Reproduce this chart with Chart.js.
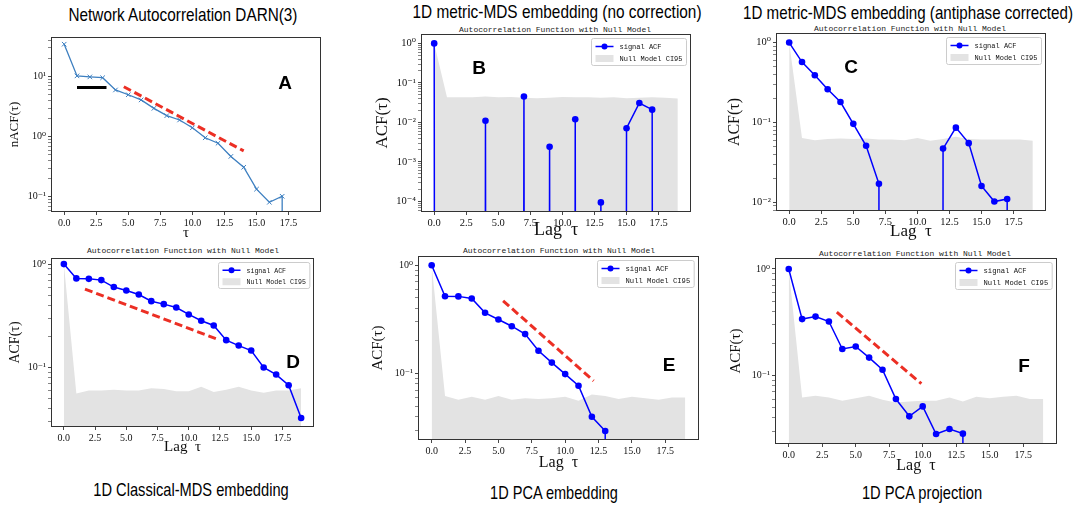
<!DOCTYPE html>
<html>
<head>
<meta charset="utf-8">
<script src="https://cdn.jsdelivr.net/npm/chart.js@4.4.1/dist/chart.umd.min.js"></script>
<style>
  body { margin: 0; background: #fff; width: 1083px; height: 508px; position: relative; overflow: hidden; }
  canvas { position: absolute; }
  .ttl { position: absolute; font-family: "Liberation Sans", Arial, sans-serif; font-size: 19px; color: #000; white-space: nowrap; transform: translate(-50%, -50%); }
  .sub { position: absolute; font-family: "Liberation Mono", "DejaVu Sans Mono", monospace; font-size: 8px; color: #222; white-space: nowrap; transform: translate(-50%, -50%); }
  .tag { position: absolute; font-family: "Liberation Sans", Arial, sans-serif; font-weight: bold; font-size: 19px; color: #000; transform: translate(-50%, -50%); }
</style>
</head>
<body>
<div class="ttl" data-w="229" style="left:183px;top:15px">Network Autocorrelation DARN(3)</div>
<div class="ttl" data-w="289" style="left:557px;top:12px">1D metric-MDS embedding (no correction)</div>
<div class="ttl" data-w="330" style="left:908px;top:13px">1D metric-MDS embedding (antiphase corrected)</div>
<div class="ttl" data-w="195" style="left:191px;top:490px">1D Classical-MDS embedding</div>
<div class="ttl" data-w="128" style="left:554px;top:493px">1D PCA embedding</div>
<div class="ttl" data-w="120" style="left:922px;top:493px">1D PCA projection</div>

<div class="sub" style="left:555px;top:29px">Autocorrelation Function with Null Model</div>
<div class="sub" style="left:910px;top:28px">Autocorrelation Function with Null Model</div>
<div class="sub" style="left:183px;top:250px">Autocorrelation Function with Null Model</div>
<div class="sub" style="left:559px;top:250px">Autocorrelation Function with Null Model</div>
<div class="sub" style="left:915px;top:253px">Autocorrelation Function with Null Model</div>

<script>
/*- DATA
-----------------------------------------------------------------------*/
const lags = [0, 1, 2, 3, 4, 5, 6, 7, 8, 9, 10, 11, 12, 13, 14, 15, 16, 17, 18, 19];
const lagTicks = [0, 2.5, 5, 7.5, 10, 12.5, 15, 17.5];

// negative values fall below the log axis (clipped, like matplotlib does)
// A: network autocorrelation DARN(3)
const nacfDarn = [34.7, 10.3, 9.9, 9.6, 6.0, 5.0, 4.1, 2.97, 2.24, 1.9, 1.41, 0.96, 0.78, 0.47, 0.31, 0.134, 0.081, 0.102, -0.05, -0.05];
const darnPlateauX = [1.0, 3.3];
const darnPlateauY = [6.6, 6.6];
const darnSlopeX = [4.65, 14.0];
const darnSlopeY = [6.8, 0.58];

// B: metric-MDS, no correction
const acfMdsRaw = [1.0, -0.01, -0.02, -0.01, 0.011, -0.01, -0.02, 0.045, -0.01, 0.0024, -0.01, 0.012, -0.01, 0.000094, -0.01, 0.0071, 0.031, 0.021, -0.01, -0.01];
const nullMdsRaw = [1.0, 0.043, 0.043, 0.043, 0.045, 0.043, 0.044, 0.042, 0.041, 0.042, 0.044, 0.043, 0.043, 0.042, 0.043, 0.041, 0.042, 0.043, 0.042, 0.040];

// C: metric-MDS, antiphase corrected
const acfMdsCorr = [1.0, 0.57, 0.39, 0.26, 0.18, 0.096, 0.051, 0.017, -0.01, -0.01, -0.01, -0.01, 0.047, 0.086, 0.055, 0.016, 0.0102, 0.011, -0.01, -0.01];
const nullMdsCorr = [1.0, 0.064, 0.060, 0.062, 0.063, 0.062, 0.063, 0.061, 0.061, 0.060, 0.064, 0.059, 0.062, 0.066, 0.062, 0.061, 0.061, 0.061, 0.061, 0.059];

// D: classical MDS
const acfClassical = [1.0, 0.727, 0.72, 0.70, 0.60, 0.556, 0.508, 0.438, 0.41, 0.38, 0.326, 0.283, 0.255, 0.184, 0.163, 0.146, 0.100, 0.0855, 0.0674, 0.0325];
const nullClassical = [1.0, 0.056, 0.060, 0.060, 0.061, 0.060, 0.060, 0.063, 0.062, 0.059, 0.059, 0.065, 0.058, 0.061, 0.065, 0.060, 0.057, 0.060, 0.060, 0.063];
const classicalSlopeX = [1.69, 12.17];
const classicalSlopeY = [0.573, 0.19];

// E: PCA embedding
const acfPcaEmb = [1.0, 0.517, 0.515, 0.492, 0.363, 0.315, 0.273, 0.231, 0.162, 0.126, 0.0986, 0.0769, 0.0398, 0.0294, -0.01, -0.01, -0.01, -0.01, -0.01, -0.01];
const nullPcaEmb = [1.0, 0.062, 0.057, 0.061, 0.057, 0.062, 0.057, 0.059, 0.058, 0.059, 0.061, 0.056, 0.064, 0.062, 0.058, 0.061, 0.059, 0.057, 0.060, 0.060];
const pcaEmbSlopeX = [5.35, 12.13];
const pcaEmbSlopeY = [0.469, 0.0855];

// F: PCA projection
const acfPcaProj = [1.0, 0.338, 0.357, 0.321, 0.177, 0.187, 0.147, 0.113, 0.060, 0.0413, 0.0512, 0.0282, 0.0314, 0.0284, -0.01, -0.01, -0.01, -0.01, -0.01, -0.01];
const nullPcaProj = [1.0, 0.0622, 0.0645, 0.062, 0.058, 0.061, 0.0645, 0.059, 0.0558, 0.057, 0.058, 0.058, 0.062, 0.057, 0.063, 0.061, 0.063, 0.0645, 0.060, 0.060];
const pcaProjSlopeX = [3.59, 9.9];
const pcaProjSlopeY = [0.393, 0.0836];

/*- STYLE
-----------------------------------------------------------------------*/
const SERIF = '"Liberation Serif", "DejaVu Serif", serif';
const BLUE = '#0000ff';
const STEEL = '#3d7fc0';
const RED = '#ec2f24';
const GREY = '#e3e3e3';
const CLIP = 1e-300;

const SUP = { '-': '\u207b', '0': '\u2070', '1': '\u00b9', '2': '\u00b2', '3': '\u00b3', '4': '\u2074', '5': '\u2075', '6': '\u2076', '7': '\u2077', '8': '\u2078', '9': '\u2079' };
const powLabel = e => '10' + String(e).split('').map(c => SUP[c]).join('');

const pts = (xs, ys) => xs.map((x, i) => ({ x, y: ys[i] > 0 ? ys[i] : CLIP }));

const signalSet = ys => ({
  label: 'signal ACF', data: pts(lags, ys), inLegend: true,
  borderColor: BLUE, backgroundColor: BLUE, borderWidth: 1.5,
  pointRadius: 3.3, pointBorderWidth: 0, pointBackgroundColor: BLUE
});
const nullSet = ys => ({
  label: 'Null Model CI95', data: pts(lags, ys), inLegend: true, fill: 'start',
  backgroundColor: GREY, borderColor: 'rgba(0,0,0,0)', borderWidth: 0, pointRadius: 0
});
const guideSet = (xs, ys, color, dash) => ({
  data: pts(xs, ys), borderColor: color, borderWidth: 3, borderDash: dash, pointRadius: 0
});

// log ticks 1..9 x 10^e inside the axis range
function logTicks(min, max) {
  const out = [];
  for (let e = Math.floor(Math.log10(min)); e <= Math.ceil(Math.log10(max)); e++) {
    for (let k = 1; k <= 9; k++) {
      const v = k * Math.pow(10, e);
      if (v >= min && v <= max) out.push({ value: v, major: k === 1 });
    }
  }
  return out;
}

// squeeze the panel titles to the condensed look of the figure
document.querySelectorAll('.ttl').forEach(el => {
  const k = Number(el.dataset.w) / el.offsetWidth;
  el.style.transform = 'translate(-50%, -50%) scaleX(' + k.toFixed(3) + ')';
});

/*- PLUGINS
-----------------------------------------------------------------------*/
const frame = {
  id: 'frame',
  afterDatasetsDraw(chart) {
    const { ctx, chartArea: a } = chart;
    ctx.save();
    ctx.strokeStyle = '#333';
    ctx.lineWidth = 1;
    ctx.strokeRect(Math.round(a.left) - 0.5, Math.round(a.top) - 0.5, Math.round(a.right - a.left) + 1, Math.round(a.bottom - a.top) + 1);
    ctx.restore();
  }
};

const insetLegend = {
  id: 'insetLegend',
  afterDraw(chart, args, o) {
    if (!o.display) return;
    const { ctx, chartArea: a } = chart;
    const items = chart.data.datasets.filter(d => d.inLegend);
    ctx.save();
    ctx.font = o.fontSize + 'px "Liberation Mono", "DejaVu Sans Mono", monospace';
    const tw = Math.max(...items.map(d => ctx.measureText(d.label).width));
    const pad = 4, hw = 18, gap = 6, rowH = o.rowH;
    const w = pad + hw + gap + tw + pad;
    const h = rowH * items.length + 3;
    const x0 = Math.round(a.right - 4 - w) + 0.5, y0 = Math.round(a.top + 3) + 0.5;
    ctx.beginPath();
    ctx.roundRect(x0, y0, w, h, 2);
    ctx.fillStyle = 'rgba(255,255,255,0.8)';
    ctx.fill();
    ctx.strokeStyle = '#cccccc';
    ctx.lineWidth = 1;
    ctx.stroke();
    items.forEach((d, i) => {
      const cy = y0 + 2 + rowH * (i + 0.5);
      if (d.fill) {
        ctx.fillStyle = d.backgroundColor;
        ctx.fillRect(x0 + pad, cy - 3.5, hw, 7);
      } else {
        ctx.strokeStyle = d.borderColor;
        ctx.lineWidth = d.borderWidth;
        ctx.beginPath();
        ctx.moveTo(x0 + pad, cy);
        ctx.lineTo(x0 + pad + hw, cy);
        ctx.stroke();
        ctx.fillStyle = d.borderColor;
        ctx.beginPath();
        ctx.arc(x0 + pad + hw / 2, cy, 3, 0, Math.PI * 2);
        ctx.fill();
      }
      ctx.fillStyle = '#111';
      ctx.textBaseline = 'middle';
      ctx.fillText(d.label, x0 + pad + hw + gap, cy + 0.5);
    });
    ctx.restore();
  }
};

/*- PANEL BUILDER
-----------------------------------------------------------------------*/
function makePanel(p) {
  const YW = 52, PR = 6, PT = 14, XH = 40;
  const cv = document.createElement('canvas');
  const left = p.box.l - YW, top = p.box.t - PT;
  const w = p.box.r - p.box.l + YW + PR;
  const h = p.box.b - p.box.t + PT + XH;
  cv.width = w;
  cv.height = h;
  cv.style.left = left + 'px';
  cv.style.top = top + 'px';
  document.body.appendChild(cv);

  const yTitlePad = Math.max(p.yTitleX - left - p.yTitleSize * 0.6, 0);
  const xTitlePad = Math.max(top + h - p.xTitleSize * 0.6 - p.xTitleY, 0);

  new Chart(cv, {
    type: 'line',
    data: { datasets: p.datasets },
    options: {
      responsive: false,
      animation: false,
      events: [],
      layout: { padding: { left: 0, top: PT, right: PR, bottom: 0 } },
      elements: { line: { tension: 0 } },
      plugins: {
        legend: { display: false },
        tooltip: { enabled: false },
        insetLegend: { display: p.legend, fontSize: p.legendFont || 7, rowH: p.legendRow || 12 }
      },
      scales: {
        x: {
          type: 'linear', min: -0.95, max: 19.95,
          afterBuildTicks: s => { s.ticks = lagTicks.map(v => ({ value: v })); },
          afterFit: s => { s.height = XH; },
          ticks: { autoSkip: false, maxRotation: 0, padding: 2, color: '#111',
                   font: { family: SERIF, size: p.tickSize }, callback: v => v.toFixed(1) },
          grid: { drawOnChartArea: false, tickLength: 4, tickColor: '#333', tickWidth: 0.9 },
          border: { display: false },
          title: { display: true, text: p.xTitle, color: '#111',
                   font: { family: SERIF, size: p.xTitleSize }, padding: { top: 0, bottom: xTitlePad } }
        },
        y: {
          type: 'logarithmic', min: p.yMin, max: p.yMax,
          afterBuildTicks: s => { s.ticks = logTicks(s.min, s.max); },
          afterFit: s => { s.width = YW; },
          ticks: { autoSkip: false, padding: 2, color: '#111',
                   font: { family: SERIF, size: p.tickSize },
                   callback: v => {
                     const e = Math.log10(v);
                     return Math.abs(e - Math.round(e)) < 1e-9 ? powLabel(Math.round(e)) : '';
                   } },
          grid: { drawOnChartArea: false, tickLength: 4, tickColor: '#333',
                  tickWidth: c => (c.tick && c.tick.major ? 0.9 : 0.6) },
          border: { display: false },
          title: { display: true, text: p.yTitle, color: '#111',
                   font: { family: SERIF, size: p.yTitleSize }, padding: { top: yTitlePad, bottom: 0 } }
        }
      }
    },
    plugins: [frame, insetLegend]
  });

  const tag = document.createElement('div');
  tag.className = 'tag';
  tag.textContent = p.tag;
  tag.style.left = p.tagX + 'px';
  tag.style.top = p.tagY + 'px';
  document.body.appendChild(tag);
}

/*- PANELS
-----------------------------------------------------------------------*/
makePanel({
  box: { l: 52, t: 38, r: 320, b: 211 }, yMin: 0.058, yMax: 44,
  yTitle: 'nACF(\u03c4)', yTitleSize: 13, yTitleX: 15,
  xTitle: '\u03c4', xTitleSize: 15, xTitleY: 233, tickSize: 10, legend: false,
  tag: 'A', tagX: 285, tagY: 83,
  datasets: [
    guideSet(darnSlopeX, darnSlopeY, RED, [8, 4]),
    guideSet(darnPlateauX, darnPlateauY, '#000', []),
    { data: pts(lags, nacfDarn), borderColor: STEEL, borderWidth: 1.3,
      pointStyle: 'crossRot', pointRadius: 3.2, pointBorderWidth: 1, pointBorderColor: STEEL }
  ]
});

makePanel({
  box: { l: 422, t: 35, r: 690, b: 211 }, yMin: 5.7e-5, yMax: 1.63,
  yTitle: 'ACF(\u03c4)', yTitleSize: 17, yTitleX: 383,
  xTitle: 'Lag  \u03c4', xTitleSize: 18, xTitleY: 230, tickSize: 10.5, legend: true,
  tag: 'B', tagX: 479, tagY: 68,
  datasets: [signalSet(acfMdsRaw), nullSet(nullMdsRaw)]
});

makePanel({
  box: { l: 777, t: 34, r: 1045, b: 210 }, yMin: 0.008, yMax: 1.28,
  yTitle: 'ACF(\u03c4)', yTitleSize: 16, yTitleX: 735,
  xTitle: 'Lag  \u03c4', xTitleSize: 17, xTitleY: 232, tickSize: 10.5, legend: true,
  tag: 'C', tagX: 851, tagY: 67,
  datasets: [signalSet(acfMdsCorr), nullSet(nullMdsCorr)]
});

makePanel({
  box: { l: 52, t: 259, r: 313, b: 426 }, yMin: 0.0272, yMax: 1.12,
  yTitle: 'ACF(\u03c4)', yTitleSize: 14, yTitleX: 15,
  xTitle: 'Lag  \u03c4', xTitleSize: 15, xTitleY: 447, tickSize: 10, legend: true,
  legendFont: 6.6, legendRow: 11.5,
  tag: 'D', tagX: 293, tagY: 362,
  datasets: [guideSet(classicalSlopeX, classicalSlopeY, RED, [8, 4]), signalSet(acfClassical), nullSet(nullClassical)]
});

makePanel({
  box: { l: 419, t: 257, r: 698, b: 439 }, yMin: 0.0248, yMax: 1.19,
  yTitle: 'ACF(\u03c4)', yTitleSize: 15, yTitleX: 378,
  xTitle: 'Lag  \u03c4', xTitleSize: 16, xTitleY: 463, tickSize: 10, legend: true,
  legendFont: 7.2,
  tag: 'E', tagX: 669, tagY: 365,
  datasets: [guideSet(pcaEmbSlopeX, pcaEmbSlopeY, RED, [8, 4]), signalSet(acfPcaEmb), nullSet(nullPcaEmb)]
});

makePanel({
  box: { l: 776, t: 259, r: 1056, b: 443 }, yMin: 0.0232, yMax: 1.24,
  yTitle: 'ACF(\u03c4)', yTitleSize: 15, yTitleX: 736,
  xTitle: 'Lag  \u03c4', xTitleSize: 16, xTitleY: 466, tickSize: 10, legend: true,
  legendFont: 7.2,
  tag: 'F', tagX: 1024, tagY: 366,
  datasets: [guideSet(pcaProjSlopeX, pcaProjSlopeY, RED, [8, 4]), signalSet(acfPcaProj), nullSet(nullPcaProj)]
});
</script>
</body>
</html>
